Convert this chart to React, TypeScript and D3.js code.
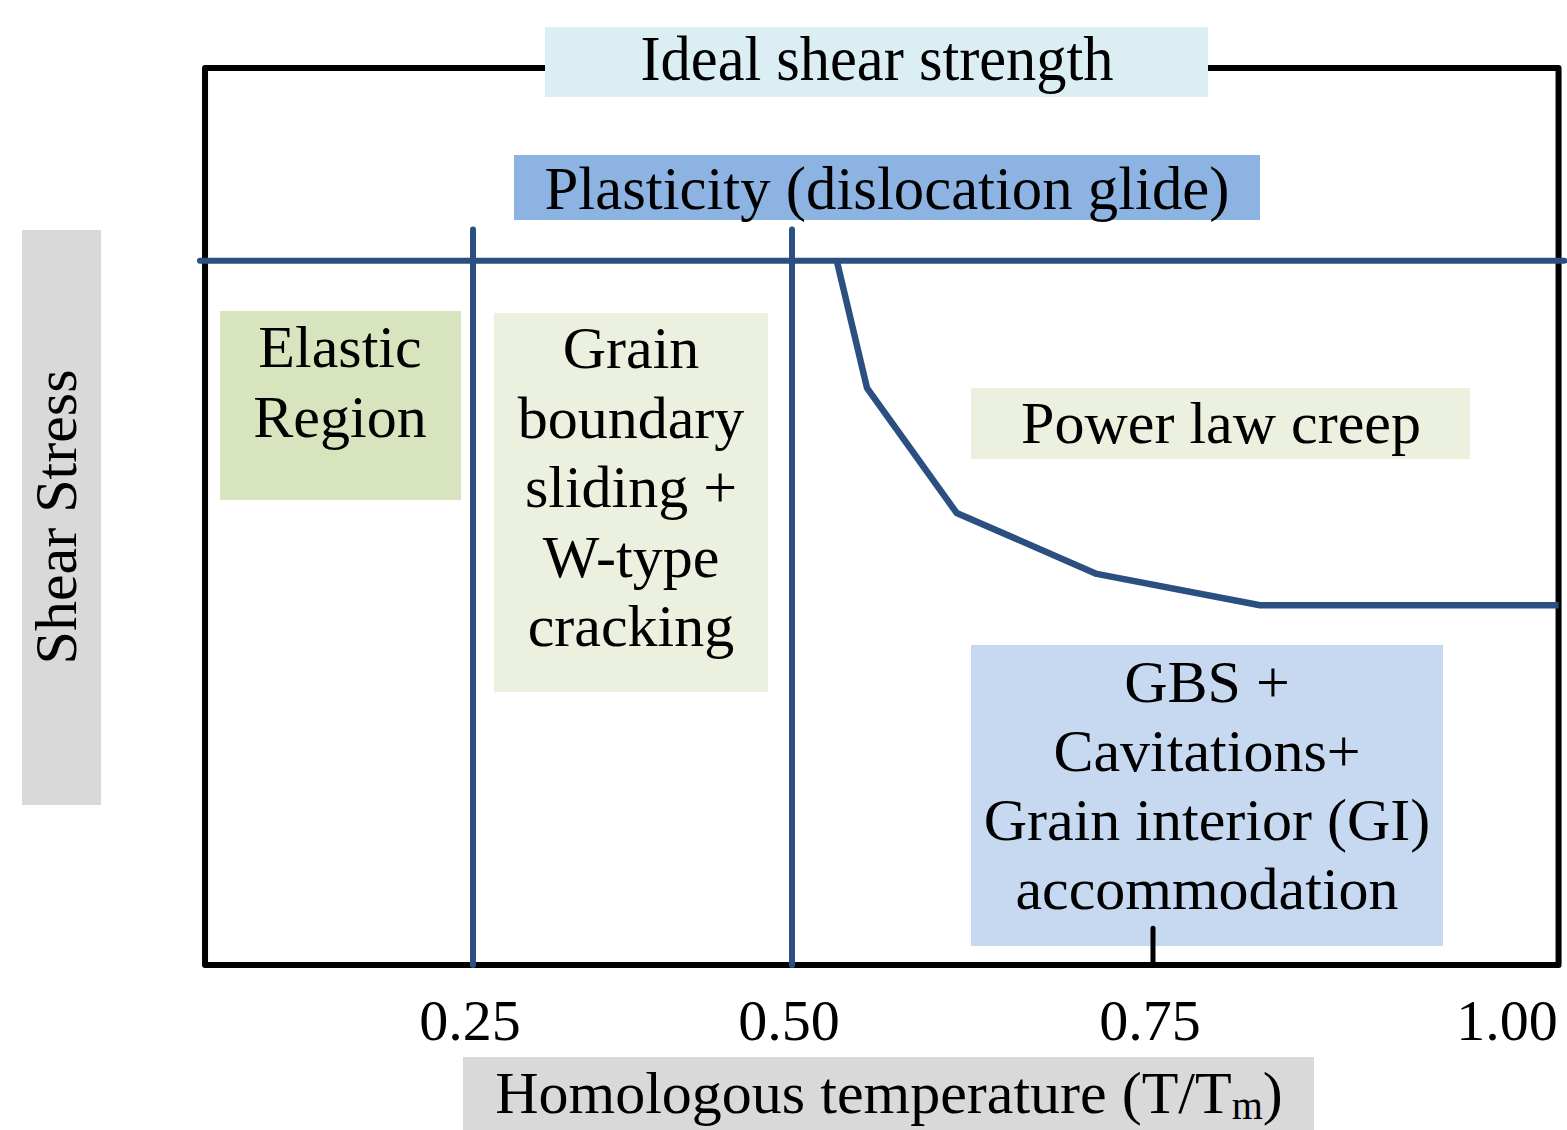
import React from "react";
import * as d3 from "d3";

// ---------- data ----------
const xTickValues = [0.25, 0.5, 0.75, 1.0];
const xTickLabels = ["0.25", "0.50", "0.75", "1.00"];
const tempDomainMin = 0.04;
const tempDomainMax = 1.034;
const boundaryTemps = [0.25, 0.5];
const boundaryTopStress = 0.82;
const plasticityStress = 0.785;
const plasticityTempStart = 0.036;
const plasticityTempEnd = 1.038;
const creepTemp = [0.531, 0.552, 0.614, 0.711, 0.825, 1.034];
const creepStress = [0.785, 0.643, 0.504, 0.436, 0.401, 0.401];
const markTemp = 0.75;
const markStressTop = 0.041;

const titleText = "Ideal shear strength";
const plasticityText = "Plasticity (dislocation glide)";
const elasticLines = ["Elastic", "Region"];
const gbsLines = ["Grain", "boundary", "sliding +", "W-type", "cracking"];
const creepLines = ["Power law creep"];
const giLines = ["GBS +", "Cavitations+", "Grain interior (GI)", "accommodation"];
const yAxisLabel = "Shear Stress";
const xAxisLabelMain = "Homologous temperature (T/T";
const xAxisLabelSub = "m";
const xAxisLabelEnd = ")";

// ---------- layout ----------
const W = 1567;
const H = 1130;
const FONT = "'Liberation Serif', 'Times New Roman', serif";
const LINE_BLUE = "#2A4F80";

const x = d3
  .scaleLinear()
  .domain([0.25, 0.5, 0.75, 1.0])
  .range([473, 792, 1153, 1510]);
const y = d3.scaleLinear().domain([0, 1]).range([965, 68]);

type Box = {
  x0: number; y0: number; x1: number; y1: number;
  fill: string; lines: string[]; cx: number; firstBaseline: number; step: number;
  size: number; lengths?: number[];
};

const boxes: Box[] = [
  { x0: 545, y0: 27, x1: 1208, y1: 97, fill: "#DBEEF4", lines: [titleText], cx: 877, firstBaseline: 80, step: 0, size: 64, lengths: [473] },
  { x0: 514, y0: 155, x1: 1260, y1: 220, fill: "#8DB3E2", lines: [plasticityText], cx: 887, firstBaseline: 209, step: 0, size: 62, lengths: [685] },
  { x0: 220, y0: 311, x1: 461, y1: 500, fill: "#D7E4BD", lines: elasticLines, cx: 340, firstBaseline: 367, step: 70, size: 60 },
  { x0: 494, y0: 313, x1: 768, y1: 692, fill: "#EBF1DE", lines: gbsLines, cx: 631, firstBaseline: 368, step: 69.5, size: 60 },
  { x0: 971, y0: 388, x1: 1470, y1: 459, fill: "#EBF1DE", lines: creepLines, cx: 1221, firstBaseline: 443, step: 0, size: 60 },
  { x0: 971, y0: 645, x1: 1443, y1: 946, fill: "#C6D9F1", lines: giLines, cx: 1207, firstBaseline: 702, step: 69, size: 60 },
];

export default function App() {
  const creepPoints: [number, number][] = creepTemp.map((t, i) => [t, creepStress[i]]);
  const creepPath =
    d3
      .line<[number, number]>()
      .x((d) => x(d[0]))
      .y((d) => y(d[1]))(creepPoints) || "";

  return (
    <svg
      width={W}
      height={H}
      viewBox={`0 0 ${W} ${H}`}
      style={{ position: "absolute", left: 0, top: 0, background: "#fff" }}
      fontFamily={FONT}
    >
      <rect x={0} y={0} width={W} height={H} fill="#fff" />

      {/* plot frame */}
      <rect
        x={x(tempDomainMin)}
        y={y(1)}
        width={x(tempDomainMax) - x(tempDomainMin)}
        height={y(0) - y(1)}
        fill="none"
        stroke="#000"
        strokeWidth={6}
        strokeLinejoin="round"
      />

      {/* plasticity threshold line */}
      <line
        x1={x(plasticityTempStart)}
        x2={x(plasticityTempEnd)}
        y1={y(plasticityStress)}
        y2={y(plasticityStress)}
        stroke={LINE_BLUE}
        strokeWidth={6}
        strokeLinecap="round"
      />

      {/* vertical boundaries */}
      {boundaryTemps.map((t) => (
        <line
          key={t}
          x1={x(t)}
          x2={x(t)}
          y1={y(boundaryTopStress)}
          y2={y(0)}
          stroke={LINE_BLUE}
          strokeWidth={6}
          strokeLinecap="round"
        />
      ))}

      {/* creep boundary curve */}
      <path d={creepPath} fill="none" stroke={LINE_BLUE} strokeWidth={6.5} strokeLinejoin="round" />

      {/* region boxes */}
      {boxes.map((b, bi) => (
        <g key={bi}>
          <rect x={b.x0} y={b.y0} width={b.x1 - b.x0} height={b.y1 - b.y0} fill={b.fill} />
          {b.lines.map((ln, li) => (
            <text
              key={li}
              x={b.cx}
              y={b.firstBaseline + li * b.step}
              textAnchor="middle"
              fontSize={b.size}
              fill="#000"
              {...(b.lengths ? { textLength: b.lengths[li], lengthAdjust: "spacingAndGlyphs" } : {})}
            >
              {ln}
            </text>
          ))}
        </g>
      ))}

      {/* 0.75 tick mark */}
      <line
        x1={x(markTemp)}
        x2={x(markTemp)}
        y1={y(markStressTop)}
        y2={y(0)}
        stroke="#000"
        strokeWidth={5}
        strokeLinecap="round"
      />

      {/* x tick labels */}
      {xTickValues.map((v, i) => (
        <text key={v} x={x(v) - 3} y={1040} textAnchor="middle" fontSize={58} fill="#000">
          {xTickLabels[i]}
        </text>
      ))}

      {/* x axis label */}
      <rect x={463} y={1057} width={851} height={73} fill="#D9D9D9" />
      <text x={889} y={1113} textAnchor="middle" fontSize={60} fill="#000">
        {xAxisLabelMain}
        <tspan fontSize={40} dy={6}>{xAxisLabelSub}</tspan>
        <tspan dy={-6}>{xAxisLabelEnd}</tspan>
      </text>

      {/* y axis label */}
      <rect x={22} y={230} width={79} height={575} fill="#D9D9D9" />
      <text
        transform={`translate(76,517) rotate(-90)`}
        textAnchor="middle"
        fontSize={60}
        fill="#000"
      >
        {yAxisLabel}
      </text>
    </svg>
  );
}
